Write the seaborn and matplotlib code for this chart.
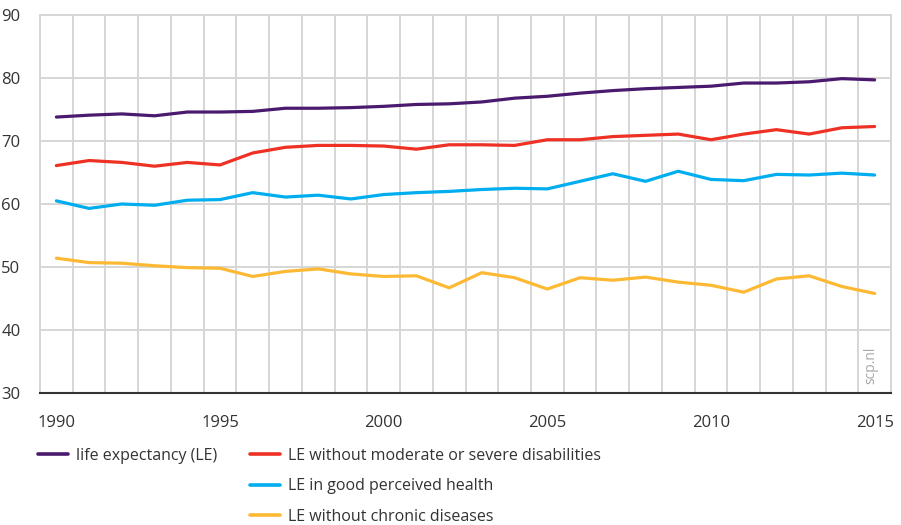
import matplotlib
matplotlib.use("Agg")
import matplotlib.pyplot as plt
from matplotlib.lines import Line2D
from matplotlib.ticker import MultipleLocator, FixedLocator
import numpy as np
import pandas as pd
import seaborn as sns

years = list(range(1990, 2016))

life_expectancy = [73.8, 74.1, 74.3, 74.0, 74.6, 74.6, 74.7, 75.2, 75.2, 75.3,
                   75.5, 75.8, 75.9, 76.2, 76.8, 77.1, 77.6, 78.0, 78.3, 78.5,
                   78.7, 79.2, 79.2, 79.4, 79.9, 79.7]
le_no_disability = [66.1, 66.9, 66.6, 66.0, 66.6, 66.2, 68.1, 69.0, 69.3, 69.3,
                    69.2, 68.7, 69.4, 69.4, 69.3, 70.2, 70.2, 70.7, 70.9, 71.1,
                    70.2, 71.1, 71.8, 71.1, 72.1, 72.3]
le_good_health = [60.5, 59.3, 60.0, 59.8, 60.6, 60.7, 61.8, 61.1, 61.4, 60.8,
                  61.5, 61.8, 62.0, 62.3, 62.5, 62.4, 63.6, 64.8, 63.6, 65.2,
                  63.9, 63.7, 64.7, 64.6, 64.9, 64.6]
le_no_chronic = [51.4, 50.7, 50.6, 50.2, 49.9, 49.8, 48.5, 49.3, 49.7, 48.9,
                 48.5, 48.6, 46.7, 49.1, 48.3, 46.5, 48.3, 47.9, 48.4, 47.6,
                 47.1, 46.0, 48.1, 48.6, 46.9, 45.8]

series_names = ["life expectancy (LE)",
                "LE without moderate or severe disabilities",
                "LE in good perceived health",
                "LE without chronic diseases"]
series_values = [life_expectancy, le_no_disability, le_good_health, le_no_chronic]
colors = ["#4a1a6e", "#ee3124", "#00aeef", "#fdb933"]

df = pd.concat(
    [pd.DataFrame({"year": years, "value": v, "series": n})
     for n, v in zip(series_names, series_values)],
    ignore_index=True,
)

sns.set_theme(style="white")
plt.rcParams["font.family"] = ["Open Sans", "DejaVu Sans"]

W, H = 901, 525
fig = plt.figure(figsize=(W / 100, H / 100), dpi=100)
ax = fig.add_axes([40 / W, 1 - 393 / H, (891 - 40) / W, (393 - 15) / H])

sns.lineplot(data=df, x="year", y="value", hue="series", palette=colors,
             hue_order=series_names, linewidth=2.3, legend=False, ax=ax)

ax.set_xlim(1989.5, 2015.5)
ax.set_ylim(30, 90)
ax.set_xlabel("")
ax.set_ylabel("")

grid_col = "#d6d6d6"
ax.xaxis.set_major_locator(FixedLocator(years))
ax.xaxis.set_minor_locator(MultipleLocator(1, offset=0.5))
ax.set_xticklabels([str(y) if y % 5 == 0 else "" for y in years])
ax.yaxis.set_major_locator(MultipleLocator(10))

ax.grid(False)
ax.grid(which="minor", axis="x", color=grid_col, linewidth=1.4)
ax.grid(which="major", axis="y", color=grid_col, linewidth=1.4)
ax.set_axisbelow(True)

ax.tick_params(axis="x", which="major", direction="out", length=8, width=1.3,
               color="#333333", pad=8, labelsize=12, labelcolor="#333333")
ax.tick_params(axis="x", which="minor", length=0)
ax.tick_params(axis="y", which="major", length=0, pad=14, labelsize=12,
               labelcolor="#333333")

for side in ["left", "right", "top"]:
    ax.spines[side].set_color(grid_col)
    ax.spines[side].set_linewidth(1.4)
    ax.spines[side].set_visible(True)
ax.spines["bottom"].set_color("#333333")
ax.spines["bottom"].set_linewidth(1.5)
ax.spines["bottom"].set_visible(True)

ax.text(2014.89, 31.5, "scp.nl", rotation=90, ha="center", va="bottom",
        fontsize=10, color="#a8a8a8")

handles = [Line2D([], [], color=c, linewidth=2.6) for c in colors]
leg_kw = dict(frameon=False, fontsize=11.5, handlelength=1.85,
              handletextpad=0.55, labelcolor="#333333", borderaxespad=0,
              borderpad=0)
leg1 = fig.legend(handles[:1], series_names[:1], loc="upper left",
                  bbox_to_anchor=(38 / W, 1 - 448 / H), **leg_kw)
leg2 = fig.legend(handles[1:], series_names[1:], loc="upper left",
                  bbox_to_anchor=(250 / W, 1 - 448 / H), labelspacing=0.9,
                  **leg_kw)

fig.savefig("out.png", dpi=100)
